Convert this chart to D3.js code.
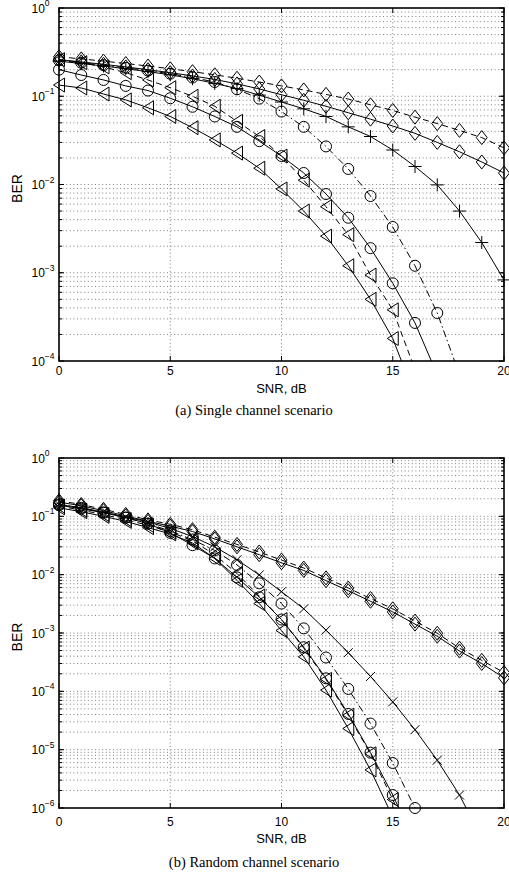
<!DOCTYPE html>
<html><head><meta charset="utf-8">
<script src="https://cdn.jsdelivr.net/npm/d3@7"></script>
<style>body{margin:0;background:#fff}</style></head>
<body><svg id="c" width="509" height="888"></svg>
<script>
// ---------- data ----------
const snr = [0,1,2,3,4,5,6,7,8,9,10,11,12,13,14,15,16,17,18,19,20];
const xTickValues = [0,5,10,15,20];
const topExponents = [0,-1,-2,-3,-4];
const bottomExponents = [0,-1,-2,-3,-4,-5,-6];
const captions = ["(a) Single channel scenario","(b) Random channel scenario"];

// (a) single channel scenario
const aDiamondDashed = [0.28,0.265,0.25,0.235,0.22,0.205,0.19,0.175,0.16,0.145,0.131,0.118,0.105,0.093,0.080,0.069,0.058,0.049,0.041,0.034,0.026];
const aDiamondSolid  = [0.26,0.245,0.23,0.215,0.2,0.185,0.17,0.155,0.138,0.121,0.104,0.09,0.077,0.065,0.055,0.046,0.038,0.030,0.0235,0.018,0.0135];
const aPlusSolid     = [0.25,0.235,0.22,0.205,0.19,0.175,0.158,0.14,0.122,0.103,0.086,0.072,0.059,0.045,0.035,0.0246,0.016,0.0099,0.005,0.0022,0.00083];
const aCircleSolid   = [0.2,0.174,0.153,0.131,0.116,0.095,0.076,0.059,0.045,0.031,0.021,0.0135,0.0078,0.0042,0.0019,0.00076,0.00027,0.00007];
const aCircleDashDot = [0.255,0.24,0.225,0.21,0.195,0.18,0.163,0.145,0.12,0.094,0.067,0.045,0.027,0.015,0.0074,0.0033,0.0012,0.00035,0.00007];
const aTriangleSolid = [0.134,0.124,0.106,0.091,0.074,0.059,0.044,0.032,0.0227,0.0153,0.0089,0.005,0.0026,0.0012,0.0005,0.00018,0.00004];
const aTriangleDashed= [0.26,0.24,0.215,0.185,0.153,0.125,0.1,0.077,0.052,0.035,0.021,0.0112,0.0056,0.0027,0.00094,0.00038,0.00008];

// (b) random channel scenario
const bDiamondSolid  = [0.175,0.152,0.125,0.102,0.082,0.068,0.055,0.041,0.030,0.022,0.016,0.0118,0.0079,0.0053,0.0035,0.0023,0.00142,0.00088,0.00049,0.0003,0.00017];
const bDiamondDashed = [0.185,0.16,0.132,0.108,0.087,0.073,0.059,0.044,0.033,0.0245,0.0178,0.013,0.0088,0.0059,0.0039,0.0026,0.0016,0.00099,0.00055,0.00034,0.00021];
const bCrossSolid    = [0.16,0.14,0.118,0.098,0.08,0.062,0.045,0.03,0.018,0.0099,0.0051,0.0026,0.00112,0.00046,0.00018,0.000066,0.000022,0.0000066,0.00000167,0.0000003];
const bCircleSolid   = [0.155,0.135,0.115,0.095,0.075,0.052,0.032,0.019,0.009,0.0041,0.0017,0.00057,0.000167,0.000041,0.0000089,0.00000167,0.00000025];
const bCircleDashDot = [0.16,0.14,0.117,0.095,0.075,0.056,0.04,0.026,0.0147,0.0071,0.0032,0.0012,0.00038,0.00011,0.000028,0.0000059,0.000001];
const bTriangleSolid = [0.14,0.12,0.1,0.082,0.064,0.05,0.035,0.019,0.008,0.0032,0.0011,0.00039,0.000105,0.000023,0.0000045,0.0000007];
const bTriangleDashed= [0.15,0.128,0.107,0.088,0.07,0.054,0.038,0.022,0.0105,0.0043,0.0017,0.00055,0.00016,0.000039,0.0000085,0.0000014,0.0000002];

// ---------- styling / layout ----------
const DASH = {solid:null, dashed:"6,4", dashdot:"7,3,1.5,3"};
const markerPath = {
  circle: "M5.5,0A5.5,5.5 0 1,1 -5.5,0A5.5,5.5 0 1,1 5.5,0Z",
  diamond: "M0,-7L5.5,0L0,7L-5.5,0Z",
  triangleLeft: "M-5.5,0L5.5,-7L5.5,7Z",
  plus: "M-6.5,0H6.5M0,-6.5V6.5",
  cross: "M-4.5,-4.5L4.5,4.5M-4.5,4.5L4.5,-4.5"
};

const panels = [
  {top:8, bottom:361, exps:topExponents, caption:captions[0], labelY:375, snrY:393, capY:415,
   series:[
     {v:aDiamondDashed, m:"diamond", d:"dashed"},
     {v:aDiamondSolid, m:"diamond", d:"solid"},
     {v:aPlusSolid, m:"plus", d:"solid"},
     {v:aCircleDashDot, m:"circle", d:"dashdot"},
     {v:aCircleSolid, m:"circle", d:"solid"},
     {v:aTriangleDashed, m:"triangleLeft", d:"dashed"},
     {v:aTriangleSolid, m:"triangleLeft", d:"solid"}
   ]},
  {top:458, bottom:808, exps:bottomExponents, caption:captions[1], labelY:826, snrY:843, capY:867,
   series:[
     {v:bDiamondDashed, m:"diamond", d:"dashed"},
     {v:bDiamondSolid, m:"diamond", d:"solid"},
     {v:bCrossSolid, m:"cross", d:"solid"},
     {v:bCircleDashDot, m:"circle", d:"dashdot"},
     {v:bCircleSolid, m:"circle", d:"solid"},
     {v:bTriangleDashed, m:"triangleLeft", d:"dashed"},
     {v:bTriangleSolid, m:"triangleLeft", d:"solid"}
   ]}
];

const svg = d3.select("#c");
const L = 59, R = 504;
const x = d3.scaleLinear().domain([0,20]).range([L,R]);

panels.forEach((p,pi)=>{
  const minExp = d3.min(p.exps);
  const y = d3.scaleLog().domain([Math.pow(10,minExp),1]).range([p.bottom,p.top]);
  const g = svg.append("g");
  const clipId = "clip"+pi;
  svg.append("clipPath").attr("id",clipId).append("rect")
    .attr("x",L).attr("y",p.top).attr("width",R-L).attr("height",p.bottom-p.top);

  // grid
  const grid = g.append("g").attr("stroke","#555").attr("stroke-width",0.75).attr("stroke-dasharray","1,2.6");
  xTickValues.slice(1,-1).forEach(t=>{
    grid.append("line").attr("x1",x(t)).attr("x2",x(t)).attr("y1",p.top).attr("y2",p.bottom);
  });
  const yTicksAll = y.ticks(60).filter(t=>t>Math.pow(10,minExp)*1.0001 && t<0.9999);
  yTicksAll.forEach(t=>{
    grid.append("line").attr("x1",L).attr("x2",R).attr("y1",y(t)).attr("y2",y(t));
  });

  // series
  const plot = g.append("g").attr("clip-path",`url(#${clipId})`);
  p.series.forEach(s=>{
    const pts = s.v.map((val,i)=>[snr[i],val]);
    plot.append("path").datum(pts)
      .attr("d", d3.line().x(d=>x(d[0])).y(d=>y(d[1])))
      .attr("fill","none").attr("stroke","#000").attr("stroke-width",1)
      .attr("stroke-dasharray", DASH[s.d]);
  });
  const mk = g.append("g");
  p.series.forEach(s=>{
    s.v.forEach((val,i)=>{
      if(val < Math.pow(10,minExp)*0.98) return;
      mk.append("path").attr("d",markerPath[s.m])
        .attr("transform",`translate(${x(snr[i])},${y(val)})`)
        .attr("fill","none").attr("stroke","#000").attr("stroke-width",1);
    });
  });

  // axes box
  g.append("rect").attr("x",L).attr("y",p.top).attr("width",R-L).attr("height",p.bottom-p.top)
    .attr("fill","none").attr("stroke","#000").attr("stroke-width",1.6);
  // ticks
  const tk = g.append("g").attr("stroke","#000").attr("stroke-width",1);
  xTickValues.forEach(t=>{
    tk.append("line").attr("x1",x(t)).attr("x2",x(t)).attr("y1",p.bottom).attr("y2",p.bottom-5);
    tk.append("line").attr("x1",x(t)).attr("x2",x(t)).attr("y1",p.top).attr("y2",p.top+5);
  });
  yTicksAll.forEach(t=>{
    tk.append("line").attr("x1",L).attr("x2",L+3).attr("y1",y(t)).attr("y2",y(t));
    tk.append("line").attr("x1",R).attr("x2",R-3).attr("y1",y(t)).attr("y2",y(t));
  });
  p.exps.forEach(e=>{
    const yy = y(Math.pow(10,e));
    tk.append("line").attr("x1",L).attr("x2",L+5).attr("y1",yy).attr("y2",yy);
    tk.append("line").attr("x1",R).attr("x2",R-5).attr("y1",yy).attr("y2",yy);
  });

  // y tick labels
  const ff = "Liberation Sans, Arial, Helvetica, sans-serif";
  p.exps.forEach(e=>{
    const yy = y(Math.pow(10,e));
    const t = g.append("text").attr("x",31.5).attr("y",yy+4.5)
      .attr("font-family",ff).attr("font-size",12).attr("fill","#000");
    t.append("tspan").text("10");
    t.append("tspan").attr("dy",-6.5).attr("font-size",8.5).text(e===0?"0":"\u2212"+Math.abs(e));
  });
  // x tick labels
  xTickValues.forEach(v=>{
    g.append("text").attr("x",x(v)).attr("y",p.labelY).attr("text-anchor","middle")
      .attr("font-family",ff).attr("font-size",12).text(v);
  });
  g.append("text").attr("x",(L+R)/2).attr("y",p.snrY).attr("text-anchor","middle")
    .attr("font-family",ff).attr("font-size",13).text("SNR, dB");
  const cy = (p.top+p.bottom)/2+4;
  g.append("text").attr("transform",`translate(22,${cy}) rotate(-90)`).attr("text-anchor","middle")
    .attr("font-family",ff).attr("font-size",14).text("BER");
  g.append("text").attr("x",254).attr("y",p.capY).attr("text-anchor","middle")
    .attr("font-family","Liberation Serif, Times New Roman, serif").attr("font-size",14.5).text(p.caption);
});
</script>
</body></html>
